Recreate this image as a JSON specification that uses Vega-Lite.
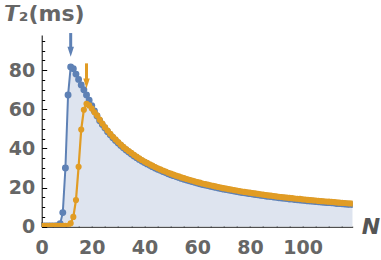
{
  "$schema": "https://vega.github.io/schema/vega-lite/v6.json",
  "width": 311,
  "height": 191.7,
  "autosize": "none",
  "padding": {"left": 41.7, "top": 35, "right": 28.3, "bottom": 33.3},
  "background": "white",
  "config": {"view": {"stroke": null}, "axis": {"grid": false}},
  "datasets": {
    "t2": [
      {"N":1,"b":0.4,"o":0.4},{"N":2,"b":0.4,"o":0.4},{"N":3,"b":0.4,"o":0.4},{"N":4,"b":0.4,"o":0.4},{"N":5,"b":0.4,"o":0.4},
      {"N":6,"b":0.4,"o":0.4},{"N":7,"b":0.5,"o":0.4},{"N":8,"b":1.5,"o":0.4},{"N":9,"b":7.2,"o":0.4},{"N":10,"b":30,"o":0.4},
      {"N":11,"b":67.3,"o":0.5},{"N":12,"b":81.7,"o":1.7},{"N":13,"b":80.8,"o":5.0},{"N":14,"b":78,"o":13.6},{"N":15,"b":75.3,"o":30.6},
      {"N":16,"b":72.5,"o":49.7},{"N":17,"b":70,"o":59.8},{"N":18,"b":67.3,"o":62.8},{"N":19,"b":64.6,"o":62.0},{"N":20,"b":61.9,"o":60.4},
      {"N":21,"b":59.2,"o":58.5},{"N":22,"b":56.6,"o":56.9},{"N":23,"b":54.2,"o":54.7},{"N":24,"b":52.2,"o":52.7},{"N":25,"b":50.4,"o":50.9},
      {"N":26,"b":48.6,"o":49.2},{"N":27,"b":47.0,"o":47.5},{"N":28,"b":45.5,"o":46.0},{"N":29,"b":44.1,"o":44.6},{"N":30,"b":42.8,"o":43.3},
      {"N":31,"b":41.5,"o":42.0},{"N":32,"b":40.3,"o":40.8},{"N":33,"b":39.2,"o":39.7},{"N":34,"b":38.2,"o":38.7},{"N":35,"b":37.2,"o":37.7},
      {"N":36,"b":36.2,"o":36.7},{"N":37,"b":35.3,"o":35.8},{"N":38,"b":34.4,"o":34.9},{"N":39,"b":33.6,"o":34.1},{"N":40,"b":32.8,"o":33.3},
      {"N":41,"b":32.1,"o":32.6},{"N":42,"b":31.4,"o":31.9},{"N":43,"b":30.7,"o":31.2},{"N":44,"b":30.0,"o":30.5},{"N":45,"b":29.4,"o":29.9},
      {"N":46,"b":28.8,"o":29.3},{"N":47,"b":28.2,"o":28.7},{"N":48,"b":27.7,"o":28.2},{"N":49,"b":27.1,"o":27.6},{"N":50,"b":26.6,"o":27.1},
      {"N":51,"b":26.1,"o":26.6},{"N":52,"b":25.6,"o":26.1},{"N":53,"b":25.2,"o":25.7},{"N":54,"b":24.7,"o":25.2},{"N":55,"b":24.3,"o":24.8},
      {"N":56,"b":23.9,"o":24.4},{"N":57,"b":23.5,"o":24.0},{"N":58,"b":23.1,"o":23.6},{"N":59,"b":22.7,"o":23.2},{"N":60,"b":22.3,"o":22.8},
      {"N":61,"b":22.0,"o":22.5},{"N":62,"b":21.6,"o":22.1},{"N":63,"b":21.3,"o":21.8},{"N":64,"b":21.0,"o":21.5},{"N":65,"b":20.7,"o":21.2},
      {"N":66,"b":20.4,"o":20.9},{"N":67,"b":20.1,"o":20.6},{"N":68,"b":19.8,"o":20.3},{"N":69,"b":19.5,"o":20.0},{"N":70,"b":19.2,"o":19.7},
      {"N":71,"b":19.0,"o":19.5},{"N":72,"b":18.7,"o":19.2},{"N":73,"b":18.5,"o":19.0},{"N":74,"b":18.2,"o":18.7},{"N":75,"b":18.0,"o":18.5},
      {"N":76,"b":17.7,"o":18.2},{"N":77,"b":17.5,"o":18.0},{"N":78,"b":17.3,"o":17.8},{"N":79,"b":17.1,"o":17.6},{"N":80,"b":16.9,"o":17.4},
      {"N":81,"b":16.7,"o":17.2},{"N":82,"b":16.5,"o":17.0},{"N":83,"b":16.3,"o":16.8},{"N":84,"b":16.1,"o":16.6},{"N":85,"b":15.9,"o":16.4},
      {"N":86,"b":15.7,"o":16.2},{"N":87,"b":15.5,"o":16.0},{"N":88,"b":15.4,"o":15.9},{"N":89,"b":15.2,"o":15.7},{"N":90,"b":15.0,"o":15.5},
      {"N":91,"b":14.8,"o":15.3},{"N":92,"b":14.7,"o":15.2},{"N":93,"b":14.5,"o":15.0},{"N":94,"b":14.4,"o":14.9},{"N":95,"b":14.2,"o":14.7},
      {"N":96,"b":14.1,"o":14.6},{"N":97,"b":13.9,"o":14.4},{"N":98,"b":13.8,"o":14.3},{"N":99,"b":13.6,"o":14.2},{"N":100,"b":13.5,"o":14.0},
      {"N":101,"b":13.4,"o":13.9},{"N":102,"b":13.2,"o":13.7},{"N":103,"b":13.1,"o":13.6},{"N":104,"b":13.0,"o":13.5},{"N":105,"b":12.9,"o":13.4},
      {"N":106,"b":12.7,"o":13.2},{"N":107,"b":12.6,"o":13.1},{"N":108,"b":12.5,"o":13.0},{"N":109,"b":12.4,"o":12.9},{"N":110,"b":12.3,"o":12.8},
      {"N":111,"b":12.2,"o":12.7},{"N":112,"b":12.1,"o":12.6},{"N":113,"b":11.9,"o":12.4},{"N":114,"b":11.8,"o":12.3},{"N":115,"b":11.7,"o":12.2},
      {"N":116,"b":11.6,"o":12.1},{"N":117,"b":11.5,"o":12.0},{"N":118,"b":11.4,"o":11.9},{"N":119,"b":11.3,"o":11.8}
    ],
    "arrows": [
      {"N":12,"top":99,"bottom":91.2,"head":89.4,"s":"b"},
      {"N":18,"top":83.5,"bottom":75.0,"head":73.2,"s":"o"}
    ]
  },
  "resolve": {"axis": {"x": "independent", "y": "independent"}},
  "layer": [
    {
      "data": {"name": "t2"},
      "mark": {"type": "area", "color": "#dee4ef", "clip": true},
      "encoding": {
        "x": {"field": "N", "type": "quantitative",
          "scale": {"domain": [1, 119], "nice": false, "zero": false},
          "axis": {"orient": "bottom", "values": [1, 20, 40, 60, 80, 100],
            "labelExpr": "datum.value == 1 ? '0' : datum.label",
            "domainColor": "black", "domainWidth": 1, "tickColor": "black", "tickSize": -5,
            "labelFont": "DejaVu Sans", "labelFontWeight": "bold", "labelFontSize": 19, "labelColor": "#666666",
            "labelPadding": 17, "labelOverlap": false, "labelFlush": false,
            "title": "N", "titleFont": "DejaVu Sans", "titleFontStyle": "italic", "titleFontWeight": "bold",
            "titleFontSize": 22, "titleColor": "#555555", "titleAlign": "left", "titleBaseline": "alphabetic",
            "titleX": 319.5, "titleY": 7, "titleAngle": 0}},
        "y": {"field": "b", "type": "quantitative",
          "scale": {"domain": [0, 98], "nice": false},
          "axis": {"orient": "left", "values": [0, 20, 40, 60, 80],
            "domainColor": "black", "domainWidth": 1, "tickColor": "black", "tickSize": -5,
            "labelFont": "DejaVu Sans", "labelFontWeight": "bold", "labelFontSize": 19, "labelColor": "#666666",
            "labelPadding": 12, "labelOverlap": false, "labelFlush": false,
            "title": "𝙏₂(ms)", "titleFont": "DejaVu Sans", "titleFontWeight": "bold",
            "titleFontSize": 22, "titleColor": "#666666", "titleAlign": "left", "titleBaseline": "alphabetic",
            "titleX": -38.4, "titleY": -15, "titleAngle": 0}}
      }
    },
    {
      "data": {"name": "t2"},
      "mark": {"type": "line", "color": "#5e81b5", "strokeWidth": 2, "clip": true,
        "point": {"filled": true, "size": 48, "color": "#5e81b5"}},
      "encoding": {
        "x": {"field": "N", "type": "quantitative",
          "axis": {"orient": "bottom", "values": [5,10,15,25,30,35,45,50,55,65,70,75,85,90,95,105,110,115],
            "labels": false, "domain": false, "tickColor": "black", "tickSize": -3, "title": null}},
        "y": {"field": "b", "type": "quantitative",
          "axis": {"orient": "left", "values": [5,10,15,25,30,35,45,50,55,65,70,75,85,90,95],
            "labels": false, "domain": false, "tickColor": "black", "tickSize": -3, "title": null}}
      }
    },
    {
      "data": {"name": "t2"},
      "mark": {"type": "line", "color": "#e19c24", "strokeWidth": 2.2, "clip": true,
        "point": {"filled": true, "size": 38, "color": "#e19c24"}},
      "encoding": {
        "x": {"field": "N", "type": "quantitative", "axis": null},
        "y": {"field": "o", "type": "quantitative", "axis": null}
      }
    },
    {
      "data": {"name": "arrows"},
      "mark": {"type": "rule", "strokeWidth": 3},
      "encoding": {
        "x": {"field": "N", "type": "quantitative", "axis": null},
        "y": {"field": "top", "type": "quantitative", "axis": null},
        "y2": {"field": "bottom"},
        "color": {"field": "s", "type": "nominal", "scale": {"domain": ["b", "o"], "range": ["#5e81b5", "#e19c24"]}, "legend": null}
      }
    },
    {
      "data": {"name": "arrows"},
      "mark": {"type": "point", "filled": true, "opacity": 1, "size": 100, "shape": "M-0.65,-1L0.65,-1L0,1Z"},
      "encoding": {
        "x": {"field": "N", "type": "quantitative", "axis": null},
        "y": {"field": "head", "type": "quantitative", "axis": null},
        "color": {"field": "s", "type": "nominal", "scale": {"domain": ["b", "o"], "range": ["#5e81b5", "#e19c24"]}, "legend": null}
      }
    }
  ]
}
